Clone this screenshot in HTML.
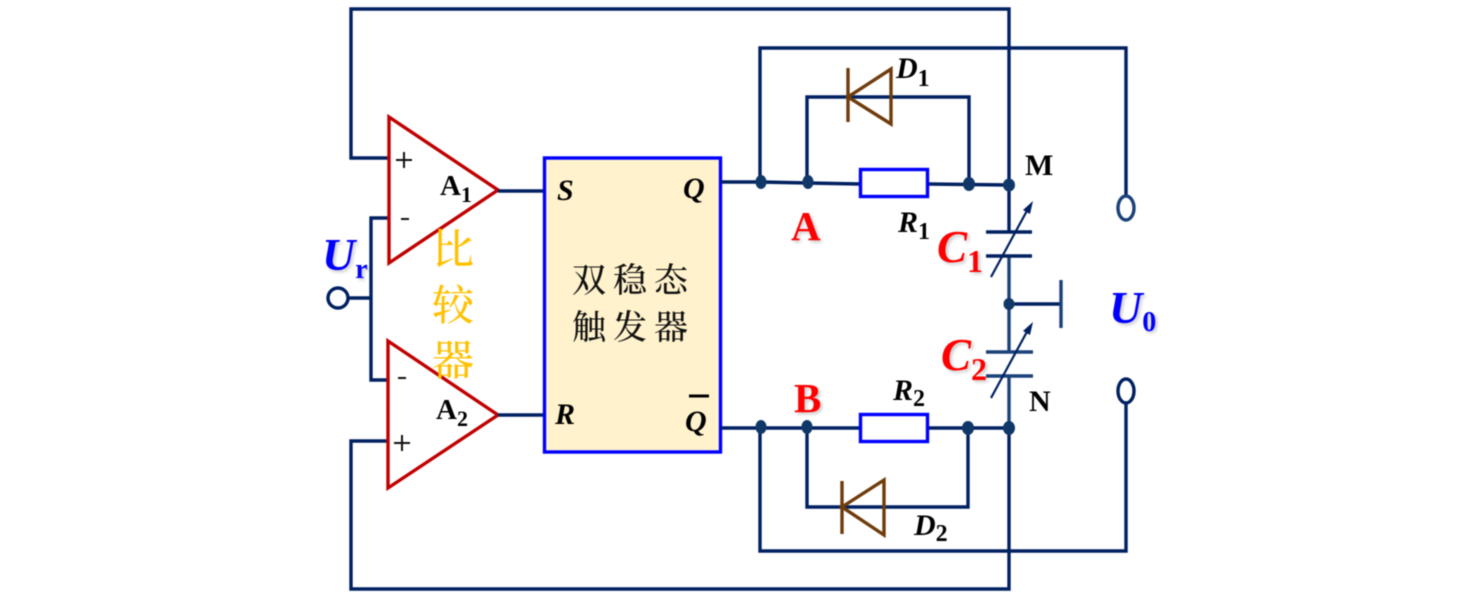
<!DOCTYPE html>
<html><head><meta charset="utf-8">
<style>
html,body{margin:0;padding:0;background:#fff}
svg{display:block}
text{font-family:"Liberation Serif","Noto Serif CJK SC",serif}
.all{filter:blur(.4px)}
.w{fill:none;stroke:#002060;stroke-width:3.4}
.l{fill:none;stroke:#1a4278;stroke-width:3.4}
.tri{fill:#fff;stroke:#c00000;stroke-width:3.4}
.d{fill:none;stroke:#6f3c0c;stroke-width:3.4}
.k{fill:#000;font-weight:bold}
.i{font-style:italic;font-weight:bold}
.red{fill:#ff0000;font-weight:bold;filter:drop-shadow(2px 2px 1.5px rgba(0,0,0,.22))}
.blue{fill:#0000ff;font-weight:bold;filter:drop-shadow(2px 2px 1.5px rgba(0,0,0,.22))}
.cn{fill:#111;font-size:34px;letter-spacing:7px;font-family:"Noto Serif CJK SC",serif;font-weight:500}
.yl{fill:#ffc000;font-size:42px;font-weight:500;font-family:"Noto Serif CJK SC",serif}
</style></head><body>
<svg width="1461" height="597" viewBox="0 0 1461 597" xmlns="http://www.w3.org/2000/svg">
<rect width="1461" height="597" fill="#fff"/>
<g class="all">
<!-- outer feedback -->
<path class="w" d="M389 158H351V9H1009V232"/>
<path class="w" d="M388 441H351V589H1009V428"/>
<path class="l" d="M1009 256V352M1009 376V428"/>
<!-- Ur input -->
<path class="w" d="M389 218H371V380H388M348 298H371"/>
<circle cx="338" cy="298" r="10" fill="#fff" stroke="#002060" stroke-width="3.400"/>
<!-- comparators -->
<path class="tri" d="M389 117L498 190L389 263Z"/>
<path class="tri" d="M388 341L498 415L388 488Z"/>
<path class="w" d="M498 191H544M498 415H544"/>
<!-- flip-flop -->
<rect x="544.500" y="158" width="176" height="294" fill="#fff2cc" stroke="#0000ff" stroke-width="3.400"/>
<!-- upper branch -->
<path class="w" d="M721 182L761 182L808 183L860 184M928 184L1009 185"/>
<path class="w" d="M760 182V48H1126V196"/>
<path class="w" d="M807 183V97H969V184"/>
<rect x="860.500" y="169.500" width="67" height="27" fill="#fff" stroke="#0000ff" stroke-width="3.400"/>
<path class="d" d="M848 68V122M891 69L848 97L891 124Z"/>
<ellipse cx="1126" cy="208" rx="8" ry="12" fill="#fff" stroke="#1a4278" stroke-width="3.400"/>
<!-- lower branch -->
<path class="w" d="M721 428H860M928 428H1009"/>
<path class="w" d="M760 428V551H1126V403"/>
<path class="w" d="M807 428V507H968V428"/>
<rect x="860.500" y="414.500" width="67" height="27" fill="#fff" stroke="#0000ff" stroke-width="3.400"/>
<path class="d" d="M842 481V534M884 480L842 507L884 535Z"/>
<ellipse cx="1126" cy="391" rx="8" ry="12" fill="#fff" stroke="#002060" stroke-width="3.400"/>
<!-- capacitors -->
<path class="w" d="M986 232H1032M986 256H1032"/>
<path class="l" d="M986 352H1033M986 376H1033"/>
<path class="w" style="stroke-width:2.200" d="M991 277L1029 207"/>
<path d="M1033 201L1030 214L1023 210Z" fill="#002060"/>
<path class="w" style="stroke-width:2.200" d="M991 398L1029 328"/>
<path d="M1033 322L1030 335L1023 331Z" fill="#002060"/>
<!-- ground -->
<path class="w" d="M1009 304H1061"/>
<path class="l" d="M1061 280V328"/>
<!-- junctions -->
<g fill="#0f3768">
<ellipse cx="761" cy="182" rx="5.500" ry="7"/>
<ellipse cx="808" cy="182" rx="5.500" ry="7"/>
<ellipse cx="969" cy="184" rx="6" ry="7"/>
<ellipse cx="1009" cy="185" rx="6" ry="6.500"/>
<ellipse cx="1009" cy="304" rx="5.500" ry="6"/>
<ellipse cx="761" cy="427" rx="5.500" ry="7"/>
<ellipse cx="807" cy="427" rx="5.500" ry="7"/>
<ellipse cx="968" cy="428" rx="6" ry="7"/>
<ellipse cx="1009" cy="428" rx="6" ry="7"/>
</g>
<!-- comparator labels -->
<path d="M396 160H412M404 152V168M394 443H410M402 435V451" stroke="#111" stroke-width="2" fill="none"/>
<path d="M401 219H409M398 378H406" stroke="#111" stroke-width="2" fill="none"/>
<text class="k" x="440" y="195" font-size="29">A<tspan font-size="22" dy="7">1</tspan></text>
<text class="k" x="436" y="419" font-size="29">A<tspan font-size="22" dy="7">2</tspan></text>
<text class="yl" x="432" y="264">比</text>
<text class="yl" x="432" y="320">较</text>
<text class="yl" x="432" y="375">器</text>
<!-- flip-flop labels -->
<text class="i" x="557" y="200" font-size="30">S</text>
<text class="i" x="683" y="198" font-size="30">Q</text>
<text class="i" x="555" y="424" font-size="30">R</text>
<text class="i" x="685" y="431" font-size="30">Q</text>
<path d="M689 396H709" stroke="#000" stroke-width="3"/>
<text class="cn" x="572" y="292">双稳态</text>
<text class="cn" x="572" y="339">触发器</text>
<!-- circuit labels -->
<text class="i" x="896" y="78" font-size="30">D<tspan font-size="24" dy="8" font-style="normal">1</tspan></text>
<text class="i" x="898" y="232" font-size="30">R<tspan font-size="24" dy="7" font-style="normal">1</tspan></text>
<text class="i" x="893" y="400" font-size="30">R<tspan font-size="24" dy="6" font-style="normal">2</tspan></text>
<text class="i" x="914" y="535" font-size="30">D<tspan font-size="24" dy="6" font-style="normal">2</tspan></text>
<text class="k" x="1025" y="175" font-size="30">M</text>
<text class="k" x="1029" y="411" font-size="30">N</text>
<text class="red" x="791" y="240" font-size="41">A</text>
<text class="red" x="794" y="412" font-size="41">B</text>
<text class="red i" x="937" y="262" font-size="45">C<tspan font-size="32" dy="10" font-style="normal">1</tspan></text>
<text class="red i" x="941" y="370" font-size="45">C<tspan font-size="32" dy="10" font-style="normal">2</tspan></text>
<text class="blue i" x="322" y="270" font-size="46">U<tspan font-size="28" dy="8" font-style="normal">r</tspan></text>
<text class="blue i" x="1109" y="323" font-size="46">U<tspan font-size="28" dy="8" font-style="normal">0</tspan></text>
</g>
</svg>
</body></html>
